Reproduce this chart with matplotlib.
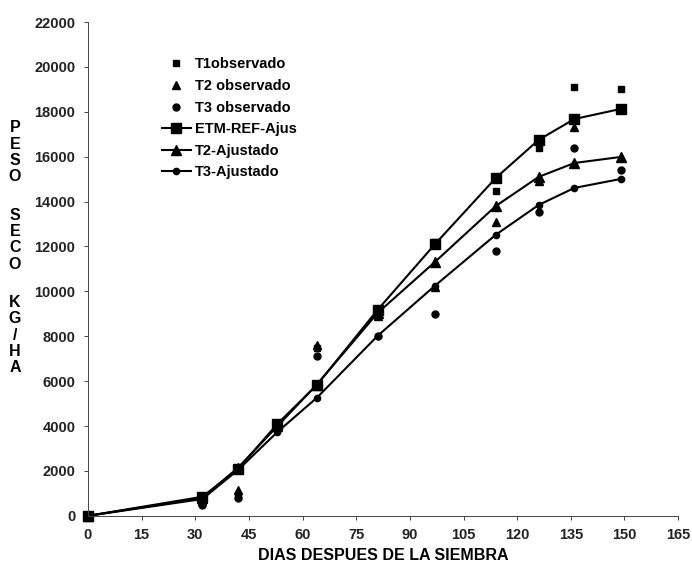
import matplotlib
matplotlib.use('Agg')
import matplotlib.pyplot as plt

plt.rcParams.update({
    'font.family': ['Liberation Sans', 'DejaVu Sans'],
    'font.weight': 'bold',
})

# days after sowing
dias = [0, 32, 42, 53, 64, 81, 97, 114, 126, 136, 149]

# observed dry weight (kg/ha)
t1_obs = [0, 700, 950, 4100, 7500, 9100, 12200, 14480, 16400, 19100, 19000]
t2_obs = [0, 650, 1150, 4000, 7600, 8900, 10200, 13100, 14900, 17330, 16000]
t3_obs = [0, 500, 800, 3900, 7100, 8000, 9000, 11800, 13540, 16390, 15400]

# fitted curves
t1_fit = [0, 850, 2090, 4100, 5830, 9180, 12100, 15050, 16750, 17680, 18130]
t2_fit = [0, 800, 2150, 4000, 5850, 9040, 11310, 13800, 15100, 15720, 15990]
t3_fit = [0, 750, 2050, 3740, 5260, 8020, 10250, 12520, 13850, 14610, 15010]

x_ticks = list(range(0, 166, 15))
y_ticks = list(range(0, 22001, 2000))

fig = plt.figure(figsize=(6.92, 5.65), dpi=100)
ax = fig.add_axes([0.127, 0.087, 0.853, 0.874])

ax.plot(dias, t1_obs, 's', color='black', ms=5, ls='none', label='T1observado')
ax.plot(dias, t2_obs, '^', color='black', ms=5.5, ls='none', label='T2 observado')
ax.plot(dias, t3_obs, 'o', color='black', ms=5, ls='none', label='T3 observado')
ax.plot(dias, t1_fit, '-s', color='black', lw=1.5, ms=7.5, label='ETM-REF-Ajus')
ax.plot(dias, t2_fit, '-^', color='black', lw=1.5, ms=7, label='T2-Ajustado')
ax.plot(dias, t3_fit, '-o', color='black', lw=1.5, ms=4.5, label='T3-Ajustado')

ax.set_xlim(0, 165)
ax.set_ylim(0, 22000)
ax.set_xticks(x_ticks)
ax.set_yticks(y_ticks)
ax.tick_params(labelsize=10.5, length=3, width=0.6, pad=6, colors='#222222')
for lab in ax.get_xticklabels() + ax.get_yticklabels():
    lab.set_fontweight('bold')
ax.spines['top'].set_visible(False)
ax.spines['right'].set_visible(False)
for s in ['left', 'bottom']:
    ax.spines[s].set_linewidth(0.7)
    ax.spines[s].set_color('#444444')
for ln in ax.lines:
    ln.set_clip_on(False)

ax.set_xlabel('DIAS DESPUES DE LA SIEMBRA', fontsize=11.5, fontweight='bold', labelpad=4)

# stacked vertical y label
groups = ['PESO', 'SECO', 'KG/HA']
yy = 1 - 128 / 565
for g in groups:
    for ch in g:
        fig.text(15 / 692, yy, ch, ha='center', va='center', fontsize=11.5, fontweight='bold')
        yy -= 16.3 / 565
    yy -= 22 / 565

leg = ax.legend(loc='upper left', bbox_to_anchor=(0.115, 0.94), frameon=False,
                fontsize=10.5, handlelength=2.0, handletextpad=0.3, labelspacing=0.52,
                borderaxespad=0)
for t in leg.get_texts():
    t.set_fontweight('bold')

plt.savefig('out.png', dpi=100, facecolor='white')
plt.close()
